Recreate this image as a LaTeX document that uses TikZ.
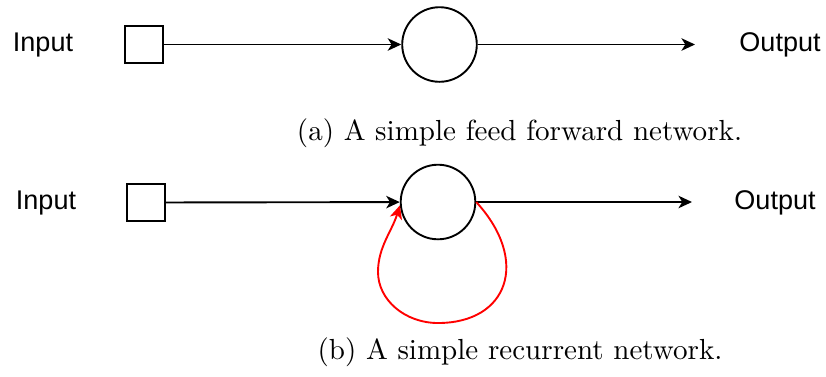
\documentclass[tikz,border=0pt]{standalone}
\usepackage{fontspec}
\newfontfamily\labelfont{Liberation Sans}
\usetikzlibrary{arrows.meta}

\begin{document}
\begin{tikzpicture}[
  x=0.37pt, y=-0.37pt,
  line width=0.7pt,
  >={Stealth[length=5pt,width=4.6pt,inset=1.4pt]},
  inp/.style={draw, minimum size=14pt, inner sep=0pt},
  neuron/.style={draw, circle, minimum size=27.6pt, inner sep=0pt},
  lbl/.style={font=\labelfont\fontsize{10}{12}\selectfont},
  subcap/.style={font=\fontsize{10.75}{13}\selectfont},
  feedback/.style={draw=red, ->}
]
\useasboundingbox (0,0) rectangle (826,376);
% (a) feed forward
\node[lbl] (a-in-lbl) at (43,45) {Input};
\node[inp] (a-in) at (144,44.5) {};
\node[neuron] (a-hid) at (439.5,44.5) {};
\coordinate (a-end) at (695,44.5);
\node[lbl] (a-out-lbl) at (780,45) {Output};
\draw[->] (a-in) -- (a-hid);
\draw[->] (a-hid) -- (a-end);
\node[subcap] (a-cap) at (519.5,133) {(a) A simple feed forward network.};
% (b) recurrent
\node[lbl] (b-in-lbl) at (46,203) {Input};
\node[inp] (b-in) at (146,202.5) {};
\node[neuron] (b-hid) at (438,202) {};
\coordinate (b-end) at (692,202);
\coordinate (loop-bot) at (438,323);
\coordinate (loop-left) at (378,272);
\node[lbl] (b-out-lbl) at (775,203) {Output};
\draw[->] (b-in) -- (b-hid);
\draw[->] (b-hid) -- (b-end);
\draw[feedback] (b-hid.east) .. controls +(54,59) and +(70,0) .. (loop-bot)
  .. controls +(-33,0) and +(0,28) .. (loop-left)
  .. controls +(0,-25) and +(-8,26) .. (b-hid.185);
\node[subcap] (b-cap) at (520,352) {(b) A simple recurrent network.};
\end{tikzpicture}
\end{document}
